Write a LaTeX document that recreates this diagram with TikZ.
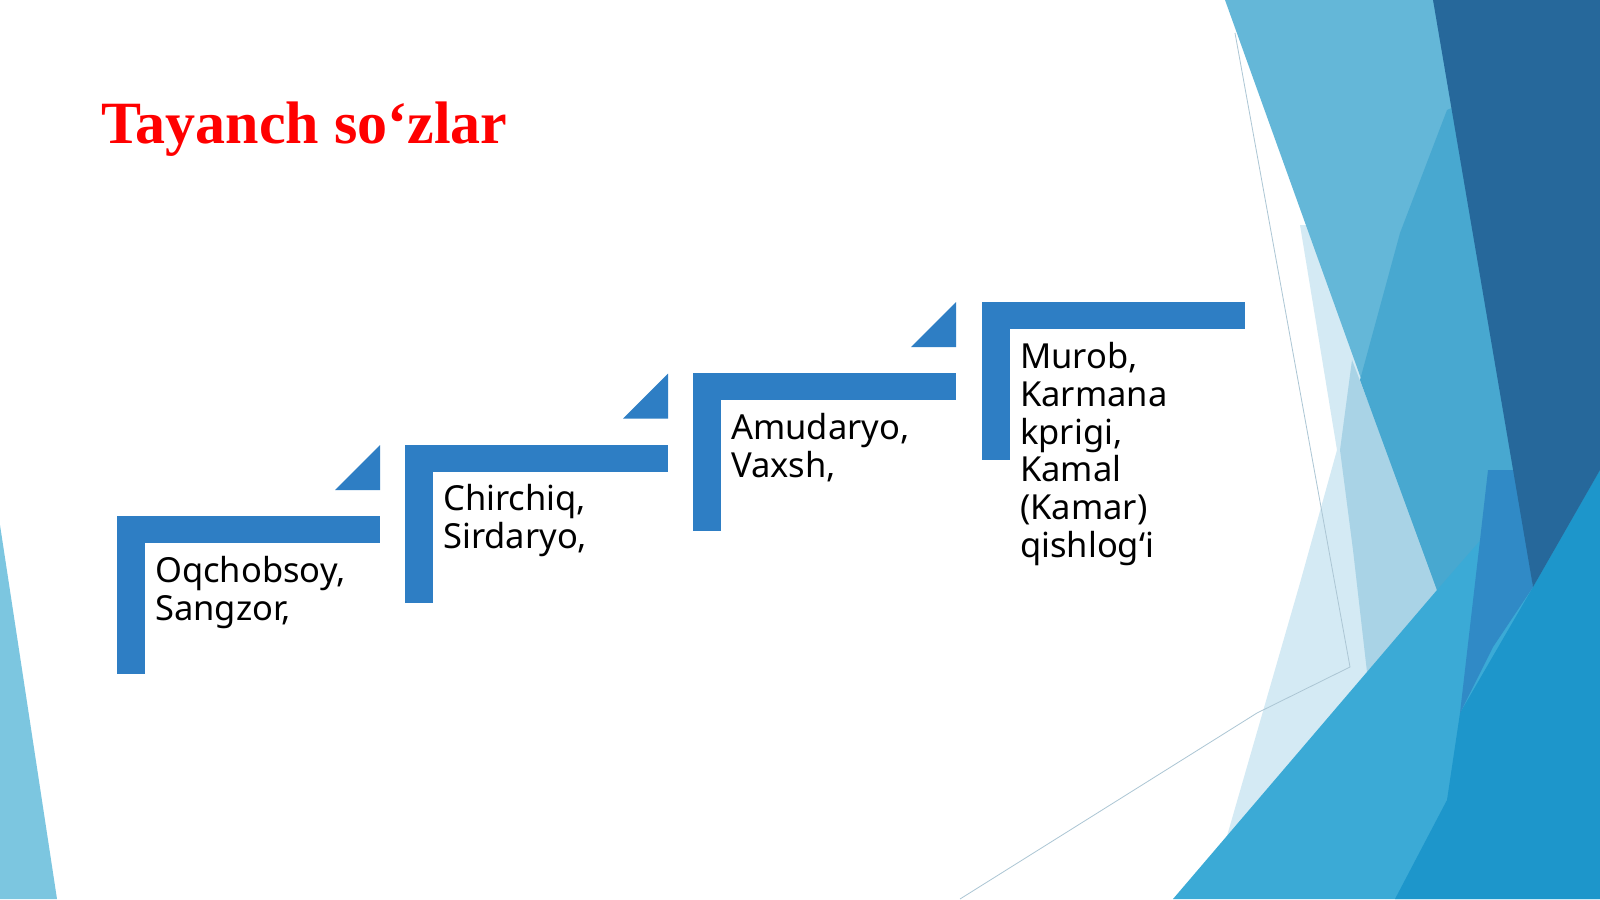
\documentclass[tikz,border=0pt]{standalone}
\usepackage{fontspec}
\setmainfont{Liberation Serif}
\newfontfamily\bodyfont{Noto Sans}
\definecolor{stepblue}{RGB}{46,126,196}
\definecolor{bgA}{RGB}{100,183,216}
\definecolor{bgB}{RGB}{72,168,208}
\definecolor{bgC}{RGB}{38,104,155}
\definecolor{bgD}{RGB}{59,170,214}
\definecolor{bgDr}{RGB}{29,150,203}
\definecolor{bgE}{RGB}{48,138,198}
\definecolor{paleA}{RGB}{212,234,244}
\definecolor{paleB}{RGB}{169,211,230}
\definecolor{leftblue}{RGB}{124,198,224}
\definecolor{thinline}{RGB}{172,198,212}
\definecolor{titlered}{RGB}{255,0,0}
\tikzset{
  barshape/.style={fill=stepblue, draw=none},
  steptext/.style={anchor=north west, inner sep=0pt, align=left,
    font=\bodyfont\fontsize{34.5}{37.8}\selectfont, text=black},
}
\begin{document}
\begin{tikzpicture}[x=1pt,y=-1pt]
\useasboundingbox (0,0) rectangle (1600,899);
\fill[white] (0,0) rectangle (1600,899);
% background decoration
\fill[leftblue] (0,525) -- (57,899) -- (0,899) -- cycle;
\fill[paleA] (1300,225) -- (1330,225) -- (1445,590) -- (1227,836) -- (1300,583) -- (1337,450) -- cycle;
\fill[paleB] (1352,360) -- (1440,590) -- (1367,672) -- (1353,550) -- (1340,450) -- cycle;
\fill[bgA] (1225,0) -- (1500,0) -- (1570,600) -- (1437,590) -- cycle;
\fill[bgB] (1447,110) -- (1470,100) -- (1570,600) -- (1437,590) -- (1360,380) -- (1400,233) -- cycle;
\fill[bgD] (1173,899) -- (1437,590) -- (1485,535) -- (1540,560) -- (1600,440) -- (1600,899) -- cycle;
\fill[bgDr] (1395,899) -- (1447,800) -- (1460,713) -- (1533,587) -- (1600,470) -- (1600,899) -- cycle;
\fill[bgE] (1488,470) -- (1515,470) -- (1533,587) -- (1493,647) -- (1460,713) -- (1480,540) -- cycle;
\fill[bgC] (1433,0) -- (1600,0) -- (1600,470) -- (1533,587) -- cycle;
\draw[thinline, line width=0.8pt] (1235,33) -- (1350,667) -- (1257,713) -- (960,899);
% title
\node[anchor=base west, inner sep=0pt, text=titlered,
  font=\fontsize{60}{64}\selectfont\bfseries] (title) at (101,143) {Tayanch so‘zlar};
% steps
\foreach \L/\T in {117/516, 405/444.5, 693/373, 982/302}{
  \fill[barshape] (\L,\T) rectangle ++(263,27);
  \fill[barshape] (\L,\T) rectangle ++(28,158);
}
\foreach \L/\T in {117/516, 405/444.5, 693/373}{
  \fill[barshape] (\L+218,\T-26) -- (\L+263,\T-26) -- (\L+263,\T-71) -- cycle;
}
\node[steptext] (s1) at (155,556) {Oqchobsoy,\\Sangzor,};
\node[steptext] (s2) at (443,484.5) {Chirchiq,\\Sirdaryo,};
\node[steptext] (s3) at (731,413) {Amudaryo,\\Vaxsh,};
\node[steptext] (s4) at (1020,342) {Murob,\\Karmana\\kprigi,\\Kamal\\(Kamar)\\qishlog‘i};
\end{tikzpicture}
\end{document}
